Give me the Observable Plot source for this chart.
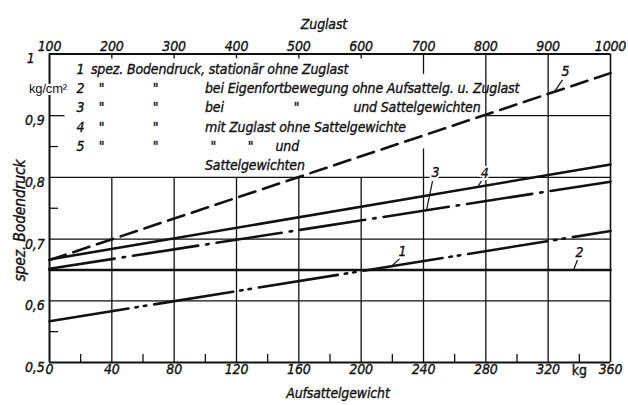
<!DOCTYPE html>
<html>
<head>
<meta charset="utf-8">
<script src="https://cdn.jsdelivr.net/npm/d3@7"></script>
<script src="https://cdn.jsdelivr.net/npm/@observablehq/plot@0.6"></script>
<style>
  html, body { margin: 0; padding: 0; background: #fff; }
  #chart svg { display: block; }
  #chart svg text { letter-spacing: -0.15px; }
</style>
</head>
<body>
<div id="chart"></div>
<script>
// ---- data ----
const kgTicks = [0, 40, 80, 120, 160, 200, 240, 280, 320, 360];
const kgMinor = [20, 60, 100, 140, 180, 220, 260, 300, 340];
const zuglastTicks = [100, 200, 300, 400, 500, 600, 700, 800, 900, 1000];
const yTicks = [0.5, 0.6, 0.7, 0.8, 0.9];
const yTop = [1.0];
const yMinor = [0.55, 0.75, 0.85];

const curveKg = [0, 360];
const curve1 = [0.567, 0.713];   // dash-dot-dot
const curve2 = [0.65, 0.65];     // solid
const curve3 = [0.652, 0.793];   // dash-dot
const curve4 = [0.667, 0.821];   // solid
const curve5 = [0.666, 0.969];   // dashed

const curveNames = ["1", "2", "3", "4", "5"];
const legendRows = [
  ["1", "spez. Bodendruck, stationär ohne Zuglast"],
  ["2", "\"", "\"", "bei Eigenfortbewegung ohne Aufsattelg. u. Zuglast"],
  ["3", "\"", "\"", "bei", "\"", "und Sattelgewichten"],
  ["4", "\"", "\"", "mit Zuglast ohne Sattelgewichte"],
  ["5", "\"", "\"", "\"", "\"", "und"],
  ["Sattelgewichten"]
];
const xTitle = "Aufsattelgewicht";
const xTopTitle = "Zuglast";
const yTitle = "spez. Bodendruck";
const yUnit = "kg/cm²";
const xUnit = "kg";

// ---- layout (positions in data units) ----
const rowY = [0.975, 0.944, 0.9125, 0.881, 0.8493, 0.8185];
const rowX = [
  [19.9, 26.6],
  [19.9, 33.4, 68, 99.8],
  [19.9, 33.4, 68, 99.8, 158.5, 195],
  [19.9, 33.4, 68, 99.8],
  [19.9, 33.4, 68, 105.2, 129, 145],
  [99.8]
];
const rowAnchor = [
  ["middle", "start"],
  ["middle", "middle", "middle", "start"],
  ["middle", "middle", "middle", "start", "middle", "start"],
  ["middle", "middle", "middle", "start"],
  ["middle", "middle", "middle", "middle", "middle", "start"],
  ["start"]
];
const legendPieces = [];
legendRows.forEach((row, r) => row.forEach((t, c) =>
  legendPieces.push({t, x: rowX[r][c], y: rowY[r], a: rowAnchor[r][c]})));

const curveLabelPos = [
  {x: 226.5, y: 0.680, lx1: 224.6, ly1: 0.668, lx2: 219.5, ly2: 0.656},
  {x: 340, y: 0.678, lx1: 338.8, ly1: 0.666, lx2: 336.3, ly2: 0.650},
  {x: 247.7, y: 0.8086, lx1: 245.8, ly1: 0.794, lx2: 241.9, ly2: 0.7467},
  {x: 279.2, y: 0.807, lx1: 277.2, ly1: 0.794, lx2: 274.7, ly2: 0.7845},
  {x: 331.1, y: 0.9717, lx1: 329.2, ly1: 0.958, lx2: 324.1, ly2: 0.9389}
].map((d, i) => ({...d, t: curveNames[i]}));

const toPts = (vals) => curveKg.map((k, i) => ({k, v: vals[i]}));
const fmtY = d => d.toFixed(1).replace(".", ",");

const FONT = "'Liberation Sans Narrow', 'DejaVu Sans Condensed', 'Arial Narrow', sans-serif";
const INK = "#111";
const gridW = 1.3;
const curveW = 2.6;
const FS = 14;
const T = {fill: INK, stroke: INK, strokeWidth: 0.35, fontSize: FS};

const chart = Plot.plot({
  width: 628,
  height: 405,
  marginLeft: 49,
  marginRight: 18,
  marginTop: 53.5,
  marginBottom: 43,
  x: {domain: [0, 360], axis: null},
  y: {domain: [0.5, 1.0], axis: null},
  style: {fontFamily: FONT, fontStyle: "italic", fontSize: "14px", color: INK, background: "#fff"},
  marks: [
    // grid
    Plot.ruleY([0.6, 0.7, 0.8], {stroke: INK, strokeWidth: gridW}),
    Plot.ruleY([0.9], {x1: 280, x2: 360, stroke: INK, strokeWidth: gridW}),
    Plot.ruleX(kgTicks.slice(1, -1), {y1: 0.5, y2: 0.8, stroke: INK, strokeWidth: gridW}),
    Plot.ruleX([280, 320], {y1: 0.8, y2: 1.0, stroke: INK, strokeWidth: gridW}),
    Plot.ruleX([240], {y1: 0.8, y2: 0.846, stroke: INK, strokeWidth: gridW}),
    Plot.ruleX([240], {y1: 0.967, y2: 1.0, stroke: INK, strokeWidth: gridW}),
    Plot.ruleX(kgTicks.slice(1, 6), {y1: 0.992, y2: 1.0, stroke: INK, strokeWidth: gridW}),
    Plot.ruleX(kgMinor, {y1: 0.5, y2: 0.513, stroke: INK, strokeWidth: gridW}),
    Plot.ruleY(yMinor, {x1: 0, x2: 5.8, stroke: INK, strokeWidth: gridW}),
    Plot.ruleY([0.9], {x1: 0, x2: 10, stroke: INK, strokeWidth: gridW}),
    // frame
    Plot.ruleY([0.5, 1.0], {x1: 0, x2: 360, stroke: INK, strokeWidth: 2}),
    Plot.ruleX([0], {y1: 0.5, y2: 1.0, stroke: INK, strokeWidth: 2}),
    Plot.ruleX([360], {y1: 0.5, y2: 1.0, stroke: INK, strokeWidth: 1.6}),
    // curves
    Plot.line(toPts(curve2), {x: "k", y: "v", stroke: INK, strokeWidth: curveW}),
    Plot.line(toPts(curve4), {x: "k", y: "v", stroke: INK, strokeWidth: curveW}),
    Plot.line(toPts(curve1), {x: "k", y: "v", stroke: INK, strokeWidth: curveW, strokeDasharray: "80,7,2.5,6,2.5,8"}),
    Plot.line(toPts(curve3), {x: "k", y: "v", stroke: INK, strokeWidth: curveW, strokeDasharray: "66,8,2.5,8"}),
    Plot.line(toPts(curve5), {x: "k", y: "v", stroke: INK, strokeWidth: curveW, strokeDasharray: "17,8"}),
    // curve labels with leaders
    Plot.link(curveLabelPos, {x1: "lx1", y1: "ly1", x2: "lx2", y2: "ly2", stroke: INK, strokeWidth: 1.2}),
    Plot.text(curveLabelPos, {x: "x", y: "y", text: "t", fill: "#fff", stroke: "#fff", strokeWidth: 4, fontSize: FS}),
    Plot.text(curveLabelPos, {x: "x", y: "y", text: "t", ...T}),
    // legend
    Plot.text(legendPieces.filter(d => d.a === "middle"), {x: "x", y: "y", text: "t", textAnchor: "middle", ...T}),
    Plot.text(legendPieces.filter(d => d.a === "start"), {x: "x", y: "y", text: "t", textAnchor: "start", ...T}),
    Plot.text([yUnit], {x: 0, y: 0.944, text: d => d, dx: -1.5, fill: INK, stroke: "#fff", strokeWidth: 4, paintOrder: "stroke", fontStyle: "normal", fontFamily: "'Liberation Sans', Arial, sans-serif", fontSize: 13}),
    // tick labels
    Plot.text(kgTicks, {x: d => d, frameAnchor: "bottom", dy: 11, text: d => String(d), ...T}),
    Plot.text([xUnit], {x: 340, frameAnchor: "bottom", dy: 12, text: d => d, ...T, fontStyle: "normal"}),
    Plot.text(kgTicks, {x: d => d, frameAnchor: "top", dy: -13, text: (d, i) => String(zuglastTicks[i]), ...T}),
    Plot.text(yTicks, {y: d => d, frameAnchor: "left", textAnchor: "end", dx: -5, dy: 5, text: fmtY, ...T}),
    Plot.text(yTop, {y: d => d, frameAnchor: "left", textAnchor: "end", dx: -15, dy: 5, text: d => String(d), ...T}),
    // titles
    Plot.text([xTitle], {frameAnchor: "bottom", dx: 8, dy: 35, text: d => d, ...T}),
    Plot.text([xTopTitle], {frameAnchor: "top", dx: -6, dy: -35, text: d => d, ...T}),
    Plot.text([yTitle], {y: () => 0.73, frameAnchor: "left", textAnchor: "middle", rotate: -90, dx: -29, text: d => d, ...T, fontSize: 15.5})
  ]
});
document.getElementById("chart").appendChild(chart);
</script>
</body>
</html>
